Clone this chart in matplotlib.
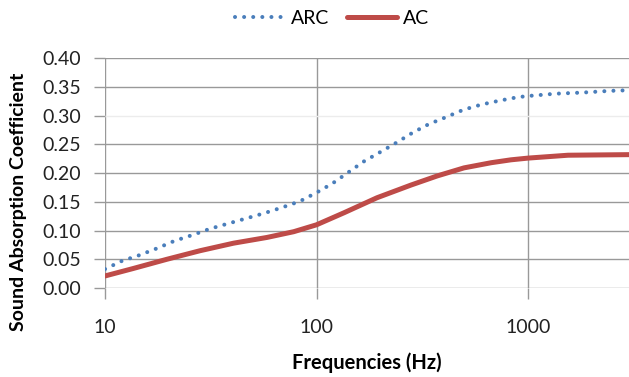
import numpy as np
import matplotlib
matplotlib.use("Agg")
import matplotlib.pyplot as plt

# values
arc_freq = [10, 12, 14.5, 17.6, 21.3, 25.8, 31.3, 38.1, 46.4, 56.4, 68.6, 83.5, 100,
            119, 141, 167, 199, 239, 284, 339, 408, 494, 600, 734, 895, 1000,
            1347, 1815, 2450, 3000]
arc_vals = [0.033, 0.047, 0.057, 0.069, 0.082, 0.092, 0.103, 0.112, 0.121, 0.130, 0.140, 0.151, 0.166,
            0.182, 0.201, 0.220, 0.236, 0.253, 0.270, 0.285, 0.297, 0.310, 0.319, 0.326, 0.332, 0.334,
            0.338, 0.340, 0.343, 0.344]

ac_freq = [10, 13.6, 19.6, 28.2, 40.5, 58.3, 78, 100, 135, 193, 279, 372, 498, 670, 830, 1000, 1545, 3000]
ac_vals = [0.021, 0.034, 0.050, 0.065, 0.078, 0.088, 0.098, 0.110, 0.131, 0.157, 0.179, 0.195,
           0.209, 0.218, 0.223, 0.226, 0.231, 0.232]

xticks = [10, 100, 1000]
yticks = [0.00, 0.05, 0.10, 0.15, 0.20, 0.25, 0.30, 0.35, 0.40]

plt.rcParams['font.family'] = ['Lato', 'DejaVu Sans']

fig = plt.figure(figsize=(6.29, 3.77), dpi=100)
ax = fig.add_axes([0.167, 0.236, 0.833, 0.61])

ax.plot(arc_freq, arc_vals, color='#4a7ebb', lw=2.9, linestyle=(0, (0.01, 2.25)),
        dash_capstyle='round', label='ARC')
ax.plot(ac_freq, ac_vals, color='#be4b48', lw=3.6, solid_capstyle='round', label='AC')

ax.set_xscale('log')
ax.set_xlim(10, 3000)
ax.set_ylim(0, 0.40)
ax.set_xticks(xticks)
ax.set_xticklabels([str(t) for t in xticks])
ax.xaxis.set_minor_locator(matplotlib.ticker.NullLocator())
ax.set_yticks(yticks)
ax.set_yticklabels(['%.2f' % t for t in yticks])

ax.grid(True, color='#999999', lw=1.0)
ax.set_axisbelow(True)
# the 0.30 gridline is nearly invisible in the original
ygl = ax.get_ygridlines()
ygl[6].set_color('#ececec')
for s in ax.spines.values():
    s.set_visible(False)
ax.tick_params(axis='both', colors='#999999', length=8, width=1.0,
               labelcolor='#222222', labelsize=14)
ax.yaxis.get_major_ticks()[6].tick1line.set_color('#ececec')
ax.tick_params(axis='y', pad=9)
ax.tick_params(axis='x', pad=14)

ax.set_xlabel('Frequencies (Hz)', fontsize=14.5, fontweight='bold', labelpad=12)
ax.set_ylabel('Sound Absorption Coefficient', fontsize=14, fontweight='bold')
ax.yaxis.set_label_coords(-0.148, 0.375)

fig.legend(loc='upper center', bbox_to_anchor=(0.528, 1.02), ncol=2, frameon=False,
           fontsize=14, handlelength=2.6, columnspacing=0.9, handletextpad=0.3)

fig.savefig('out.png', dpi=100)
